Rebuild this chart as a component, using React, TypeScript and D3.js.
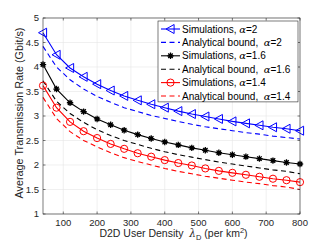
import React from 'react'
import * as d3 from 'd3'

const densities = [40, 80, 120, 160, 200, 240, 280, 320, 360, 400, 440, 480, 520, 560, 600, 640, 680, 720, 760, 800]

const simA2 = [4.7, 4.25, 3.98, 3.8, 3.65, 3.52, 3.41, 3.32, 3.24, 3.17, 3.1, 3.04, 2.99, 2.94, 2.89, 2.85, 2.81, 2.77, 2.74, 2.7]
const boundA2 = [4.42, 4.0, 3.74, 3.55, 3.4, 3.28, 3.17, 3.09, 3.01, 2.95, 2.89, 2.83, 2.78, 2.74, 2.7, 2.66, 2.63, 2.59, 2.56, 2.53]
const simA16 = [4.05, 3.55, 3.27, 3.09, 2.94, 2.82, 2.71, 2.62, 2.54, 2.47, 2.41, 2.35, 2.3, 2.25, 2.21, 2.17, 2.13, 2.09, 2.05, 2.02]
const boundA16 = [3.72, 3.3, 3.05, 2.87, 2.72, 2.6, 2.5, 2.42, 2.34, 2.27, 2.21, 2.16, 2.11, 2.06, 2.02, 1.98, 1.94, 1.9, 1.87, 1.82]
const simA14 = [3.62, 3.17, 2.88, 2.69, 2.55, 2.43, 2.33, 2.24, 2.17, 2.1, 2.04, 1.99, 1.93, 1.88, 1.84, 1.8, 1.76, 1.72, 1.69, 1.65]
const boundA14 = [3.38, 2.95, 2.68, 2.5, 2.37, 2.25, 2.15, 2.07, 2.0, 1.93, 1.87, 1.82, 1.77, 1.73, 1.69, 1.65, 1.62, 1.58, 1.55, 1.5]

const xTicks = [100, 200, 300, 400, 500, 600, 700, 800]
const yTicks = [1, 1.5, 2, 2.5, 3, 3.5, 4, 4.5, 5]

const W = 332
const H = 249
const margin = { top: 18, right: 32, bottom: 35, left: 43 }
const font = 'Liberation Sans, Arial, Helvetica, sans-serif'

type Marker = 'tri' | 'star' | 'circle'

const series: { values: number[]; color: string; dashed: boolean; marker?: Marker; label: string; alpha: string }[] = [
  { values: simA2, color: '#0000ff', dashed: false, marker: 'tri', label: 'Simulations, ', alpha: '=2' },
  { values: boundA2, color: '#0000ff', dashed: true, label: 'Analytical bound,\u00a0 ', alpha: '=2' },
  { values: simA16, color: '#000000', dashed: false, marker: 'star', label: 'Simulations, ', alpha: '=1.6' },
  { values: boundA16, color: '#000000', dashed: true, label: 'Analytical bound,\u00a0 ', alpha: '=1.6' },
  { values: simA14, color: '#ff0000', dashed: false, marker: 'circle', label: 'Simulations, ', alpha: '=1.4' },
  { values: boundA14, color: '#ff0000', dashed: true, label: 'Analytical bound,\u00a0 ', alpha: '=1.4' }
]

function drawMarker(kind: Marker, x: number, y: number, color: string, key: string) {
  if (kind === 'tri') {
    const r = 4.5
    return (
      <path key={key} d={`M${x - r},${y} L${x + r * 0.8},${y - r} L${x + r * 0.8},${y + r} Z`}
        fill="none" stroke={color} strokeWidth={1} />
    )
  }
  if (kind === 'circle') {
    return <circle key={key} cx={x} cy={y} r={3.6} fill="none" stroke={color} strokeWidth={1} />
  }
  const r = 3.2
  const arms = d3.range(4).map(i => {
    const a = (i * Math.PI) / 4
    return `M${x - r * Math.cos(a)},${y - r * Math.sin(a)} L${x + r * Math.cos(a)},${y + r * Math.sin(a)}`
  })
  return (
    <g key={key}>
      <circle cx={x} cy={y} r={2} fill={color} />
      <path d={arms.join(' ')} stroke={color} strokeWidth={1.3} />
    </g>
  )
}

export default function App() {
  const x = d3.scaleLinear().domain([40, 800]).range([margin.left, W - margin.right])
  const y = d3.scaleLinear().domain([1, 5]).range([H - margin.bottom, margin.top])
  const line = d3.line<number>().x((_, i) => x(densities[i])).y(d => y(d))

  const x0 = margin.left
  const x1 = W - margin.right
  const y0 = H - margin.bottom
  const y1 = margin.top

  const legX = 158
  const legY = 21
  const legW = 140
  const rowH = 13.4

  return (
    <svg width={W} height={H} style={{ position: 'absolute', left: 0, top: 0, background: '#fff' }} fontFamily={font}>
      <rect x={0} y={0} width={W} height={H} fill="#fff" />
      {/* сетка */}
      {xTicks.map(t => (
        <line key={'gx' + t} x1={x(t)} x2={x(t)} y1={y0} y2={y1} stroke="#e6e6e6" strokeWidth={0.6} />
      ))}
      {yTicks.map(t => (
        <line key={'gy' + t} x1={x0} x2={x1} y1={y(t)} y2={y(t)} stroke="#e6e6e6" strokeWidth={0.6} />
      ))}

      {/* линии серий */}
      {series.map((s, i) => (
        <path key={'s' + i} d={line(s.values) || ''} fill="none" stroke={s.color}
          strokeWidth={1.1} strokeDasharray={s.dashed ? '5,3.5' : undefined} />
      ))}
      {series.map((s, i) =>
        s.marker ? s.values.map((v, j) => drawMarker(s.marker!, x(densities[j]), y(v), s.color, `m${i}-${j}`)) : null
      )}

      {/* рамка и засечки */}
      <rect x={x0} y={y1} width={x1 - x0} height={y0 - y1} fill="none" stroke="#262626" strokeWidth={0.6} />
      {xTicks.map(t => (
        <g key={'tx' + t}>
          <line x1={x(t)} x2={x(t)} y1={y0} y2={y0 - 2.5} stroke="#262626" strokeWidth={0.6} />
          <line x1={x(t)} x2={x(t)} y1={y1} y2={y1 + 2.5} stroke="#262626" strokeWidth={0.6} />
          <text x={x(t)} y={y0 + 12} textAnchor="middle" fontSize={9.5} fill="#262626">{t}</text>
        </g>
      ))}
      {yTicks.map(t => (
        <g key={'ty' + t}>
          <line x1={x0} x2={x0 + 2.5} y1={y(t)} y2={y(t)} stroke="#262626" strokeWidth={0.6} />
          <line x1={x1} x2={x1 - 2.5} y1={y(t)} y2={y(t)} stroke="#262626" strokeWidth={0.6} />
          <text x={x0 - 4} y={y(t) + 3.3} textAnchor="end" fontSize={9.5} fill="#262626">{t}</text>
        </g>
      ))}

      {/* подписи осей */}
      <text x={(x0 + x1) / 2 + 2} y={237} textAnchor="middle" fontSize={10.5} fill="#262626">
        {'D2D User Density\u00a0 '}
        <tspan fontFamily="DejaVu Serif, serif" fontStyle="italic">λ</tspan>
        <tspan fontSize={7.5} dy={3}>D</tspan>
        <tspan dy={-3}> (per km</tspan>
        <tspan fontSize={7.5} dy={-4.5}>2</tspan>
        <tspan dy={4.5}>)</tspan>
      </text>
      <text transform={`translate(23,${(y0 + y1) / 2 - 3}) rotate(-90)`} textAnchor="middle" fontSize={10.8} fill="#262626">
        Average Transmission Rate (Gbit/s)
      </text>

      {/* легенда */}
      <rect x={legX} y={legY} width={legW} height={rowH * 6 + 0.5} fill="#fff" stroke="#262626" strokeWidth={0.6} />
      {series.map((s, i) => {
        const cy = legY + 8 + i * rowH
        return (
          <g key={'l' + i}>
            <line x1={legX + 3} x2={legX + 22} y1={cy} y2={cy} stroke={s.color} strokeWidth={1.1}
              strokeDasharray={s.dashed ? '5,3.5' : undefined} />
            {s.marker ? drawMarker(s.marker, legX + 12.5, cy, s.color, 'lm' + i) : null}
            <text x={legX + 24} y={cy + 3.6} fontSize={10} fill="#000">
              {s.label}
              <tspan fontFamily="DejaVu Serif, serif" fontStyle="italic">α</tspan>
              {s.alpha}
            </text>
          </g>
        )
      })}
    </svg>
  )
}
